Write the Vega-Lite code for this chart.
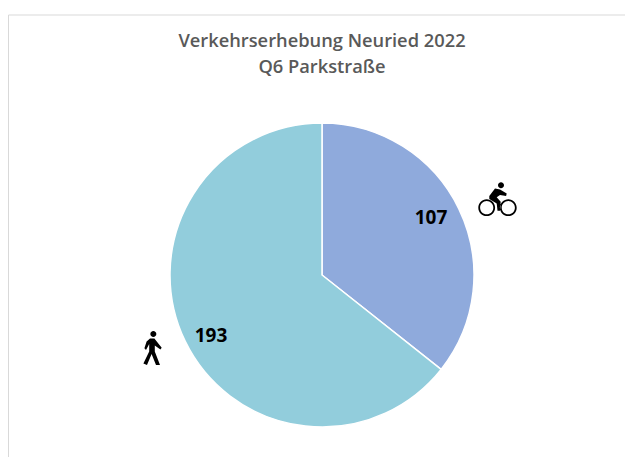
{
"$schema":"https://vega.github.io/schema/vega-lite/v6.json",
"width":625,"height":457,"padding":0,"autosize":"none","background":"white",
"config":{"view":{"stroke":null}},
"title":{"text":["Verkehrserhebung Neuried 2022","Q6 Parkstraße"],"font":"Open Sans","fontSize":18.3,"fontWeight":600,"color":"#595959","lineHeight":26,"anchor":"middle","dx":9.5,"dy":81,"frame":"group"},
"datasets":{
"slices":[{"modus":"Rad","anzahl":107,"px":322,"py":275},{"modus":"Fuß","anzahl":193,"px":322,"py":275}],
"labels":[{"modus":"Rad","anzahl":107,"px":431,"py":218},{"modus":"Fuß","anzahl":193,"px":211,"py":336}],
"icons":[{"modus":"Rad","px":497.5,"py":199},{"modus":"Fuß","px":152,"py":348}],
"frame":[{"a":8.5,"b":8.5,"c":15,"d":457},{"a":8.5,"b":625,"c":15,"d":15}]
},
"layer":[
{"data":{"name":"frame"},"mark":{"type":"rule","color":"#d9d9d9","strokeWidth":1},
"encoding":{"x":{"field":"a","type":"quantitative","scale":{"domain":[0,625]},"axis":null},"x2":{"field":"b"},"y":{"field":"c","type":"quantitative","scale":{"domain":[457,0]},"axis":null},"y2":{"field":"d"}}},
{"data":{"name":"slices"},"mark":{"type":"arc","outerRadius":152,"stroke":"white","strokeWidth":1.5},
"encoding":{"theta":{"field":"anzahl","type":"quantitative","stack":true},"order":{"field":"anzahl"},
"color":{"field":"modus","type":"nominal","legend":null,"scale":{"domain":["Rad","Fuß"],"range":["#8faadc","#92cddc"]}},
"x":{"field":"px","type":"quantitative","scale":{"domain":[0,625]},"axis":null},"y":{"field":"py","type":"quantitative","scale":{"domain":[457,0]},"axis":null}}},
{"data":{"name":"labels"},"mark":{"type":"text","font":"Open Sans","fontSize":19,"fontWeight":700,"color":"#000000","align":"center","baseline":"middle"},
"encoding":{"text":{"field":"anzahl","type":"quantitative"},"x":{"field":"px","type":"quantitative","scale":{"domain":[0,625]},"axis":null},"y":{"field":"py","type":"quantitative","scale":{"domain":[457,0]},"axis":null}}},
{"data":{"name":"icons"},"mark":{"type":"point","filled":true,"opacity":1,"color":"#000000","size":1600},
"encoding":{"x":{"field":"px","type":"quantitative","scale":{"domain":[0,625]},"axis":null},"y":{"field":"py","type":"quantitative","scale":{"domain":[457,0]},"axis":null},
"shape":{"field":"modus","type":"nominal","legend":null,"scale":{"domain":["Rad","Fuß"],"range":[
"M-0.96 0.435a0.42 0.42 0 1 0 0.84 0a0.42 0.42 0 1 0 -0.84 0ZM-0.87 0.435a0.33 0.33 0 1 1 0.66 0a0.33 0.33 0 1 1 -0.66 0ZM0.12 0.435a0.42 0.42 0 1 0 0.84 0a0.42 0.42 0 1 0 -0.84 0ZM0.21 0.435a0.33 0.33 0 1 1 0.66 0a0.33 0.33 0 1 1 -0.66 0ZM0.025 -0.685a0.15 0.15 0 1 0 0.3 0a0.15 0.15 0 1 0 -0.3 0ZM-0.41 -0.15L-0.125 -0.53L0.125 -0.48L0.46 -0.28L0.43 -0.15L0.125 -0.2L-0.04 -0.085L0.16 0.135L0.125 0.585L0 0.585L-0.04 0.22L-0.41 0Z",
"M-0.083 -0.7a0.15 0.15 0 1 0 0.3 0a0.15 0.15 0 1 0 -0.3 0ZM-0.1 -0.48L0.12 -0.48L0.485 -0.017L0.42 0.07L0.14 -0.13L0.14 0.18L0.4 0.85L0.2 0.85L-0.02 0.3L-0.25 0.85L-0.43 0.77L-0.14 0.18L-0.14 -0.2L-0.3 0.1L-0.38 0.017L-0.27 -0.32Z"
]}}}}
]
}
